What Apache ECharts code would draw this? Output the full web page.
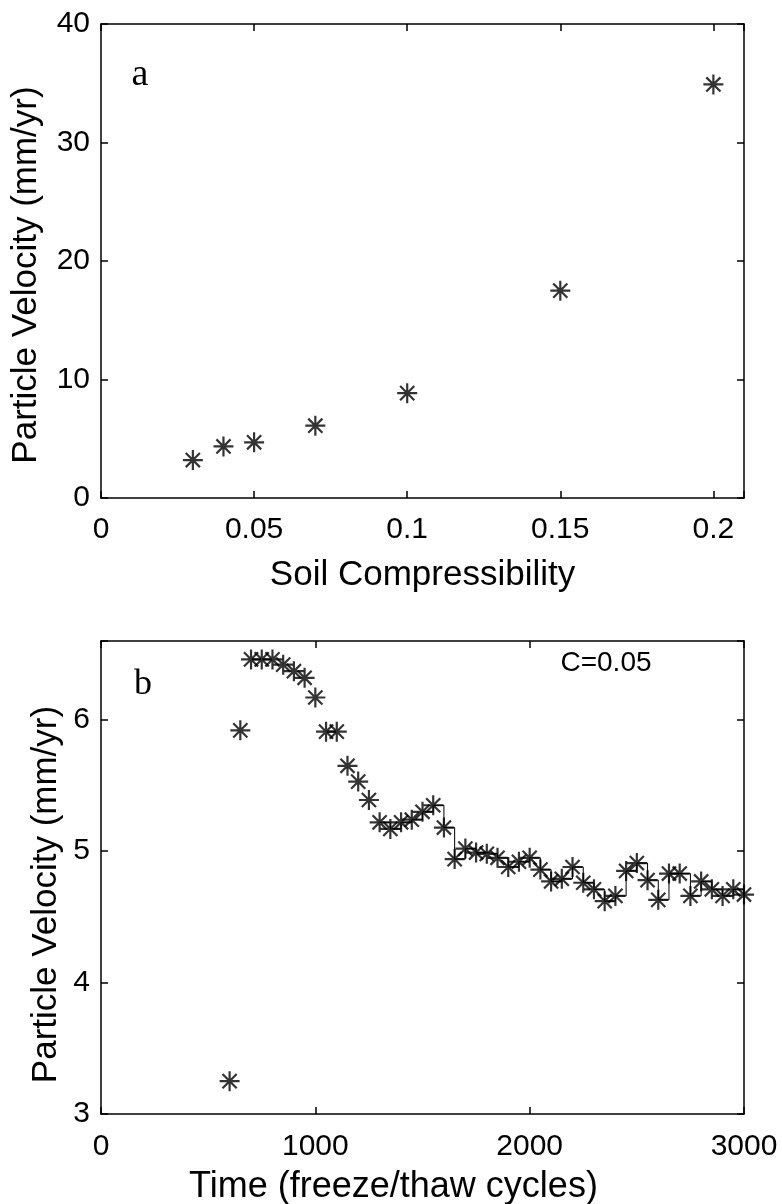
<!DOCTYPE html>
<html><head><meta charset="utf-8">
<script src="https://cdn.jsdelivr.net/npm/echarts@6/dist/echarts.min.js"></script>
<style>html,body{margin:0;padding:0;background:#fff}#c{width:782px;height:1204px}</style>
</head><body><div id="c"></div>
<script>
// Panel a
const compressibility = [0.03, 0.04, 0.05, 0.07, 0.1, 0.15, 0.2];
const velocityA = [3.2, 4.35, 4.7, 6.1, 8.85, 17.5, 34.9];
// Panel b
const timeB = [600, 650, 700, 750, 800, 850, 900, 950, 1000, 1050, 1100, 1150, 1200, 1250,
  1300, 1350, 1400, 1450, 1500, 1550, 1600, 1650, 1700, 1750, 1800, 1850, 1900, 1950, 2000,
  2050, 2100, 2150, 2200, 2250, 2300, 2350, 2400, 2450, 2500, 2550, 2600, 2650, 2700, 2750,
  2800, 2850, 2900, 2950, 3000];
const velocityB = [3.25, 5.92, 6.46, 6.46, 6.46, 6.42, 6.37, 6.32, 6.17, 5.91, 5.91, 5.65, 5.53, 5.39,
  5.22, 5.17, 5.22, 5.24, 5.30, 5.35, 5.18, 4.94, 5.02, 4.99, 4.98, 4.95, 4.88, 4.92, 4.95,
  4.86, 4.77, 4.79, 4.88, 4.76, 4.71, 4.62, 4.66, 4.85, 4.91, 4.78, 4.63, 4.83, 4.83, 4.66,
  4.77, 4.71, 4.66, 4.71, 4.67];
const stairsFromIndex = 14;
const labelA = 'a';
const labelB = 'b';
const noteB = 'C=0.05';
const xNameA = 'Soil Compressibility';
const xNameB = 'Time (freeze/thaw cycles)';
const yName = 'Particle Velocity (mm/yr)';

const SANS = '"Liberation Sans", Arial, Helvetica, sans-serif';
const SERIF = '"Liberation Serif", "Times New Roman", serif';
const ASTERISK = 'path://M8.9 0H11.1V20H8.9Z M0 8.9H20V11.1H0Z M2.15 3.71L3.71 2.15L17.85 16.29L16.29 17.85Z M16.29 2.15L17.85 3.71L3.71 17.85L2.15 16.29Z';

const lineStyle = { color: '#000', width: 1.5 };
function onStep(step) {
  return v => (Math.abs(v / step - Math.round(v / step)) < 1e-6 ? String(+v.toFixed(6)) : '');
}
function mainAxis(extra, step, margin) {
  return Object.assign({
    type: 'value',
    axisLine: { show: true, onZero: false, lineStyle },
    axisTick: { show: true, inside: true, length: 7, lineStyle },
    axisLabel: { color: '#000', fontSize: 30, fontFamily: SANS, margin, formatter: onStep(step) },
    splitLine: { show: false },
    nameLocation: 'middle',
    nameMoveOverlap: false
  }, extra);
}
function mirrorAxis(extra) {
  return Object.assign({
    type: 'value',
    axisLine: { show: true, onZero: false, lineStyle },
    axisTick: { show: true, inside: true, length: 7, lineStyle },
    axisLabel: { show: false },
    splitLine: { show: false }
  }, extra);
}
function nameStyle(size, padding) {
  return { color: '#000', fontSize: size, fontFamily: SANS, padding };
}

const chart = echarts.init(document.getElementById('c'), null, { renderer: 'canvas' });
chart.setOption({
  backgroundColor: '#fff',
  animation: false,
  grid: [
    { left: 101, top: 24, width: 643, height: 474, outerBoundsMode: 'none', containLabel: false },
    { left: 101, top: 641, width: 643, height: 473, outerBoundsMode: 'none', containLabel: false }
  ],
  xAxis: [
    mainAxis({ gridIndex: 0, position: 'bottom', min: 0, max: 0.21, interval: 0.05, name: xNameA, nameGap: 60,
      nameTextStyle: nameStyle(35, [0, 0, 0, 0]) }, 0.05, 17),
    mirrorAxis({ gridIndex: 0, position: 'top', min: 0, max: 0.21, interval: 0.05 }),
    mainAxis({ gridIndex: 1, position: 'bottom', min: 0, max: 3000, interval: 1000, name: xNameB, nameGap: 55,
      nameTextStyle: nameStyle(36, [0, 58, 0, 0]) }, 1000, 18),
    mirrorAxis({ gridIndex: 1, position: 'top', min: 0, max: 3000, interval: 1000 })
  ],
  yAxis: [
    mainAxis({ gridIndex: 0, position: 'left', min: 0, max: 40, interval: 10, name: yName, nameGap: 57, nameRotate: 90,
      nameTextStyle: nameStyle(35, [0, 28, 0, 0]) }, 10, 11),
    mirrorAxis({ gridIndex: 0, position: 'right', min: 0, max: 40, interval: 10 }),
    mainAxis({ gridIndex: 1, position: 'left', min: 3, max: 6.6, interval: 1, name: yName, nameGap: 37, nameRotate: 90,
      nameTextStyle: nameStyle(35, [0, 34, 0, 0]) }, 1, 11),
    mirrorAxis({ gridIndex: 1, position: 'right', min: 3, max: 6.6, interval: 1 })
  ],
  series: [
    {
      type: 'scatter', xAxisIndex: 0, yAxisIndex: 0,
      symbol: ASTERISK, symbolSize: 20,
      itemStyle: { color: '#000' },
      data: compressibility.map((c, i) => [c, velocityA[i]])
    },
    {
      type: 'line', xAxisIndex: 2, yAxisIndex: 2, step: 'end',
      showSymbol: false, symbol: 'none',
      lineStyle: { color: '#000', width: 1 },
      data: timeB.slice(stairsFromIndex).map((t, i) => [t, velocityB[i + stairsFromIndex]])
    },
    {
      type: 'scatter', xAxisIndex: 2, yAxisIndex: 2,
      symbol: ASTERISK, symbolSize: 20,
      itemStyle: { color: '#000' },
      data: timeB.map((t, i) => [t, velocityB[i]])
    }
  ],
  graphic: [
    { type: 'text', x: 140, y: 75, style: { text: labelA, font: '38px ' + SERIF, fill: '#000', align: 'center', verticalAlign: 'middle' } },
    { type: 'text', x: 143, y: 685, style: { text: labelB, font: '36px ' + SERIF, fill: '#000', align: 'center', verticalAlign: 'middle' } },
    { type: 'text', x: 606, y: 663, style: { text: noteB, font: '28px ' + SANS, fill: '#000', align: 'center', verticalAlign: 'middle' } }
  ]
});
</script></body></html>
